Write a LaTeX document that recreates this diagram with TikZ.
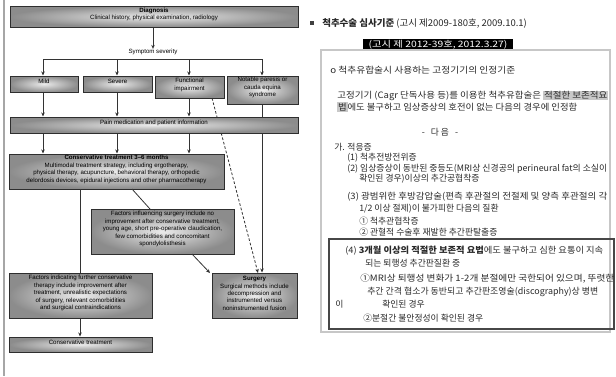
\documentclass[tikz,border=0pt]{standalone}
\usepackage{fontspec}
\setmainfont{Liberation Sans}
\newfontfamily\kr{Noto Sans CJK KR}
\usetikzlibrary{fit,arrows.meta}
\definecolor{ktext}{HTML}{2A2A2A}
\definecolor{hlgray}{HTML}{C8C8C8}
\newcommand\flowfont{\fontsize{4.6}{5.6}\selectfont}
\newcommand\krfont{\kr\fontsize{6.6}{7.8}\selectfont}
\newcommand\hlt[1]{{\setlength\fboxsep{0.6pt}\colorbox{hlgray}{#1}}}
\newcommand\kl[4]{\node[ktxt] (#1) at (#2,#3) {#4};}
\newcommand\klw[5]{\node[ktxt] (#1) at (#2,#3) {\resizebox{#4pt}{\height}{#5}};}
\begin{document}
\begin{tikzpicture}[x=0.75pt,y=-0.75pt,
  fbox/.style={draw=black!82, line width=0.75pt, inner color=black!8, outer color=black!45,
    inner sep=0pt, align=center, font=\flowfont, text=black},
  conn/.style={draw=black!80, line width=0.6pt},
  arr/.style={conn, -{Stealth[length=3pt,width=2.6pt]}},
  dsh/.style={arr, dash pattern=on 2pt off 1.4pt},
  ktxt/.style={anchor=west, inner sep=0pt, font=\krfont, text=ktext}]
\useasboundingbox (0,0) rectangle (616,376);
\fill[white] (0,0) rectangle (616,376);
% left border
\draw[black!35, line width=1pt] (4,0) -- (4,376);

% ---------- flowchart ----------
\node[fbox, fit={(10,6) (298,27)}] (diag) {\textbf{Diagnosis}\\Clinical history, physical examination, radiology};
\node[inner sep=0pt, font=\flowfont, text=black] (sym) at (153,52) {Symptom severity};
\coordinate (b1) at (43,59);
\coordinate (b2) at (117,59);
\coordinate (b3) at (189,59);
\coordinate (b4) at (262,59);
\node[fbox, fit={(10,76) (78,92)}] (mild) {Mild};
\node[fbox, fit={(83,76) (152,92)}] (severe) {Severe};
\node[fbox, fit={(155,76) (224,98)}] (func) {Functional\\impairment};
\node[fbox, fit={(227,76) (298,104)}] (notab) {Notable paresis or\\cauda equina\\syndrome};
\node[fbox, fit={(212,273) (297,318)}] (surg) {\textbf{Surgery}\\Surgical methods include\\decompression and\\instrumented versus\\noninstrumented fusion};
\coordinate (fd) at (212,98);
\coordinate (sd) at (258,273);
% connectors passing behind the pain box
\draw[arr] (notab.south -| b4) -- (surg.north -| b4);
\draw[dsh] (fd) -- (sd);
\node[fbox, fit={(10,117) (298,133)}] (pain) {Pain medication and patient information};

\draw[arr] (diag.south -| sym) -- (sym.north);
\draw[conn] (b1) -- (b4);
\draw[arr] (b1) -- (b1 |- mild.north);
\draw[arr] (b2) -- (b2 |- severe.north);
\draw[arr] (b3) -- (b3 |- func.north);
\draw[arr] (b4) -- (b4 |- notab.north);
\draw[arr] (mild.south -| b1) -- (pain.north -| b1);
\draw[arr] (severe.south -| b2) -- (pain.north -| b2);
\draw[arr] (func.south -| b3) -- (pain.north -| b3);

\node[fbox, fit={(9,154) (224,189)}] (cons) {\textbf{Conservative treatment 3--6 months}\\Multimodal treatment strategy, including ergotherapy,\\physical therapy, acupuncture, behavioral therapy, orthopedic\\delordosis devices, epidural injections and other pharmacotherapy};
\draw[arr] (pain.south -| b1) -- (cons.north -| b1);
\draw[arr] (pain.south -| b2) -- (cons.north -| b2);
\draw[arr] (pain.south -| b3) -- (cons.north -| b3);

\node[fbox, fit={(91,209) (234,254)}] (finf) {Factors influencing surgery include no\\improvement after conservative treatment,\\young age, short pre-operative claudication,\\few comorbidities and concomitant\\spondylolisthesis};
\node[fbox, fit={(9,273) (152,318)}] (find) {Factors indicating further conservative\\therapy include improvement after\\treatment, unrealistic expectations\\of surgery, relevant comorbidities\\and surgical contraindications};
\node[fbox, fit={(9,337) (152,352)}] (ctr) {Conservative treatment};
\coordinate (c1) at (132,189);
\coordinate (f1) at (150,209);
\coordinate (f2) at (192,254);
\coordinate (s1) at (210,273);
\coordinate (cx) at (80,189);
\draw[conn] (c1) -- (f1);
\draw[arr] (f2) -- (s1);
\draw[conn] (cx) -- (cx |- find.north);
\draw[arr] (find.south -| cx) -- (ctr.north -| cx);

% ---------- right panel ----------
\node[fill=black!75, inner sep=0pt, minimum size=3pt] (bul) at (312,23) {};
\node[anchor=west, inner sep=0pt, font=\kr\fontsize{7}{8}\selectfont, text=black!85] (h1) at (322,23)
  {\resizebox{153.5pt}{\height}{\textbf{척추수술 심사기준} (고시 제2009-180호, 2009.10.1)}};
\node[fill=black, inner sep=0pt, minimum width=112.5pt, minimum height=9pt] (h2) at (438,44.5) {};
\node[text=white, inner sep=0pt, font=\kr\fontsize{6.6}{7.5}\selectfont] (h2t) at (h2.center)
  {\resizebox{104pt}{\height}{(고시 제 2012-39호, 2012.3.27)}};
\draw[black!22, line width=0.8pt] (321,50) rectangle (610,332);
\draw[black!72, line width=1.9pt] (329,239) rectangle (614,329);

\klw{k1}{330}{70}{138.75}{o 척추유합술시 사용하는 고정기기의 인정기준}
\klw{k2}{337}{96}{203.25}{고정기기 (Cagr 단독사용 등)를 이용한 척추유합술은 \hlt{적절한 보존적요}}
\klw{k3}{337}{107}{180}{\hlt{법}에도 불구하고 임상증상의 호전이 없는 다음의 경우에 인정함}
\node[ktxt, anchor=center] (k4) at (440,132) {-\ \ \ 다 음\ \ \ -};
\kl{k5}{334}{147}{가. 적응증}
\kl{k6}{347}{158}{(1) 척추전방전위증}
\klw{k7}{347}{169}{195}{(2) 임상증상이 동반된 중등도(MRI상 신경공의 perineural fat의 소실이}
\kl{k8}{359}{179}{확인된 경우)이상의 추간공협착증}
\klw{k9}{347}{197}{195}{(3) 광범위한 후방감압술(편측 후관절의 전절제 및 양측 후관절의 각}
\kl{k10}{359}{209}{1/2 이상 절제)이 불가피한 다음의 질환}
\kl{k11}{359}{221}{① 척추관협착증}
\kl{k12}{359}{232}{② 관혈적 수술후 재발한 추간판탈출증}
\klw{k13}{345}{251}{193.5}{(4) \textbf{3개월 이상의 적절한 보존적 요법}에도 불구하고 심한 요통이 지속}
\kl{k14}{365}{263}{되는 퇴행성 추간판질환 중}
\klw{k15}{360}{279}{190.5}{①MRI상 퇴행성 변화가 1-2개 분절에만 국한되어 있으며, 뚜렷한}
\klw{k16}{367}{292}{173.25}{추간 간격 협소가 동반되고 추간판조영술(discography)상 병변}
\kl{k17}{335}{304}{이}
\kl{k18}{382}{304}{확인된 경우}
\kl{k19}{363}{318}{②분절간 불안정성이 확인된 경우}
\end{tikzpicture}
\end{document}
